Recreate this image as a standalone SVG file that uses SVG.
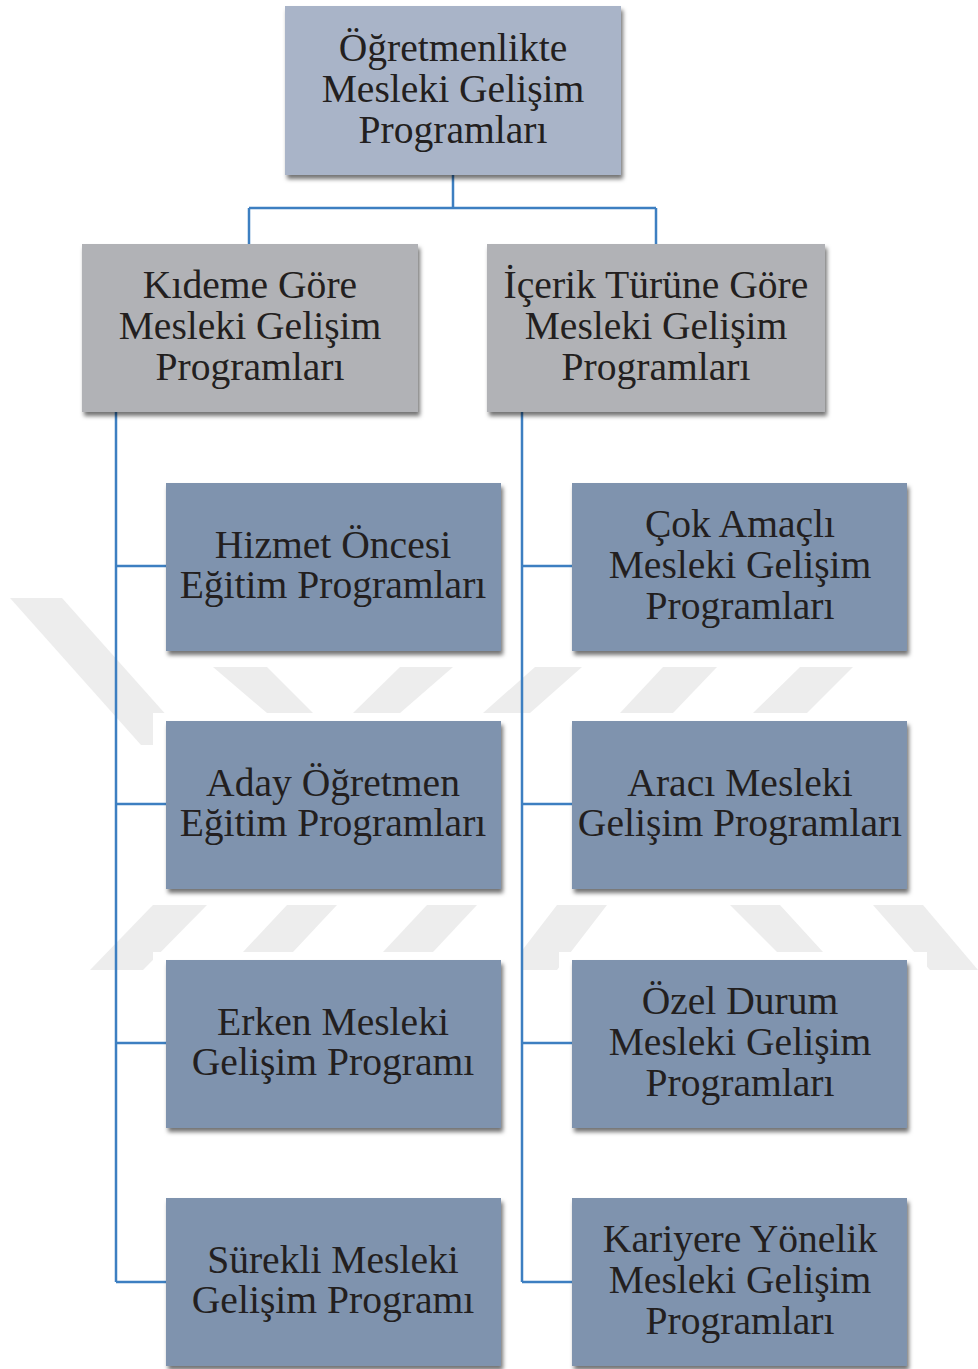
<svg xmlns="http://www.w3.org/2000/svg" width="978" height="1369" viewBox="0 0 978 1369">
  <defs>
    <filter id="shadow" x="-5%" y="-5%" width="112%" height="115%">
      <feDropShadow dx="2" dy="4" stdDeviation="2.2" flood-color="#000" flood-opacity="0.55"/>
    </filter>
    <style>
      .root { fill: #a9b4c8; filter: url(#shadow); }
      .mid  { fill: #b1b2b6; filter: url(#shadow); }
      .leaf { fill: #7f93ae; filter: url(#shadow); }
      .label { font-family: "Liberation Serif", "Times New Roman", serif; font-size: 39.6px; fill: #231f20; text-anchor: middle; }
      .wm { fill: #ededed; }
      .cover { fill: #ffffff; }
      .link { fill: none; stroke: #3d7fc1; stroke-width: 2.5; }
    </style>
  </defs>

  <rect width="978" height="1369" fill="#ffffff"/>

  <!-- faint background watermark -->
  <g id="watermark">
    <polygon class="wm" points="10,598 62,598 193,745 141,745"/>
    <polygon class="wm" points="213,667 267,667 313,713 267,713"/>
    <polygon class="wm" points="400,667 453,667 400,713 353,713"/>
    <polygon class="wm" points="535,667 582,667 530,713 483,713"/>
    <polygon class="wm" points="663,667 717,667 673,713 620,713"/>
    <polygon class="wm" points="800,667 853,667 807,713 753,713"/>
    <polygon class="wm" points="153,905 207,905 143,970 90,970"/>
    <polygon class="wm" points="287,905 337,905 293,952 243,952"/>
    <polygon class="wm" points="427,905 477,905 433,952 383,952"/>
    <polygon class="wm" points="557,905 607,905 557,970 507,970"/>
    <polygon class="wm" points="730,905 780,905 823,952 777,952"/>
    <polygon class="wm" points="873,905 923,905 978,970 930,970"/>
  </g>
  <g id="covers">
    <rect class="cover" x="153" y="475" width="368" height="192"/>
    <rect class="cover" x="559" y="475" width="368" height="192"/>
    <rect class="cover" x="153" y="713" width="368" height="192"/>
    <rect class="cover" x="559" y="713" width="368" height="192"/>
    <rect class="cover" x="153" y="952" width="368" height="192"/>
    <rect class="cover" x="559" y="952" width="368" height="192"/>
    <rect class="cover" x="153" y="1190" width="368" height="179"/>
    <rect class="cover" x="559" y="1190" width="368" height="179"/>
  </g>

  <!-- connectors -->
  <g id="connectors">
    <path class="link" d="M453,175 V208 M249,208 H656 M249,208 V244 M656,208 V244"/>
    <path class="link" d="M116,412 V1282 M116,566 H166 M116,804 H166 M116,1043 H166 M116,1282 H166"/>
    <path class="link" d="M522,412 V1282 M522,566 H572 M522,804 H572 M522,1043 H572 M522,1282 H572"/>
  </g>

  <!-- top level -->
  <g id="node-ogretmenlikte">
    <rect class="root" x="285" y="6" width="336" height="169"/>
    <text class="label" x="453" y="61">Öğretmenlikte</text>
    <text class="label" x="453" y="102">Mesleki Gelişim</text>
    <text class="label" x="453" y="143">Programları</text>
  </g>

  <!-- second level -->
  <g id="node-kideme-gore">
    <rect class="mid" x="82" y="244" width="336" height="168"/>
    <text class="label" x="250" y="298">Kıdeme Göre</text>
    <text class="label" x="250" y="339">Mesleki Gelişim</text>
    <text class="label" x="250" y="380">Programları</text>
  </g>
  <g id="node-icerik-turune-gore">
    <rect class="mid" x="487" y="244" width="338" height="168"/>
    <text class="label" x="656" y="298">İçerik Türüne Göre</text>
    <text class="label" x="656" y="339">Mesleki Gelişim</text>
    <text class="label" x="656" y="380">Programları</text>
  </g>

  <!-- left column -->
  <g id="node-hizmet-oncesi">
    <rect class="leaf" x="166" y="483" width="335" height="168"/>
    <text class="label" x="333" y="558">Hizmet Öncesi</text>
    <text class="label" x="333" y="598">Eğitim Programları</text>
  </g>
  <g id="node-aday-ogretmen">
    <rect class="leaf" x="166" y="721" width="335" height="168"/>
    <text class="label" x="333" y="796">Aday Öğretmen</text>
    <text class="label" x="333" y="836">Eğitim Programları</text>
  </g>
  <g id="node-erken-mesleki">
    <rect class="leaf" x="166" y="960" width="335" height="168"/>
    <text class="label" x="333" y="1035">Erken Mesleki</text>
    <text class="label" x="333" y="1075">Gelişim Programı</text>
  </g>
  <g id="node-surekli-mesleki">
    <rect class="leaf" x="166" y="1198" width="335" height="168"/>
    <text class="label" x="333" y="1273">Sürekli Mesleki</text>
    <text class="label" x="333" y="1313">Gelişim Programı</text>
  </g>

  <!-- right column -->
  <g id="node-cok-amacli">
    <rect class="leaf" x="572" y="483" width="335" height="168"/>
    <text class="label" x="740" y="537">Çok Amaçlı</text>
    <text class="label" x="740" y="578">Mesleki Gelişim</text>
    <text class="label" x="740" y="619">Programları</text>
  </g>
  <g id="node-araci-mesleki">
    <rect class="leaf" x="572" y="721" width="335" height="168"/>
    <text class="label" x="740" y="796">Aracı Mesleki</text>
    <text class="label" x="740" y="836">Gelişim Programları</text>
  </g>
  <g id="node-ozel-durum">
    <rect class="leaf" x="572" y="960" width="335" height="168"/>
    <text class="label" x="740" y="1014">Özel Durum</text>
    <text class="label" x="740" y="1055">Mesleki Gelişim</text>
    <text class="label" x="740" y="1096">Programları</text>
  </g>
  <g id="node-kariyere-yonelik">
    <rect class="leaf" x="572" y="1198" width="335" height="168"/>
    <text class="label" x="740" y="1252">Kariyere Yönelik</text>
    <text class="label" x="740" y="1293">Mesleki Gelişim</text>
    <text class="label" x="740" y="1334">Programları</text>
  </g>
</svg>
